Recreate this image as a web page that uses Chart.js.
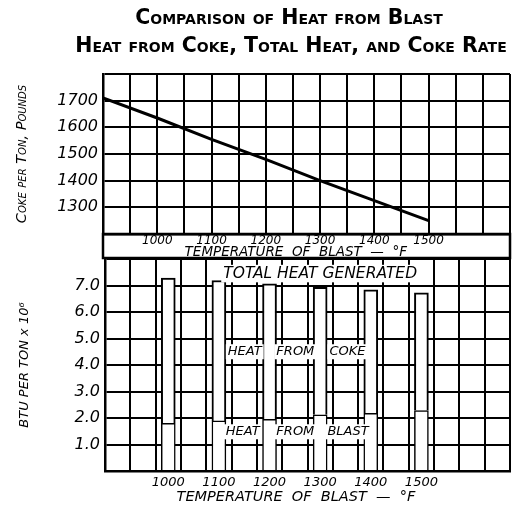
<!DOCTYPE html>
<html>
<head>
<meta charset="utf-8">
<script src="https://cdn.jsdelivr.net/npm/chart.js@4.4.0/dist/chart.umd.min.js"></script>
<style>
  body { margin: 0; background: #fff; }
  #wrap { position: relative; width: 520px; height: 505px; background: #fff; }
  #topChart { position: absolute; left: 0; top: 0; }
  #bottomChart { position: absolute; left: 0; top: 258px; }
</style>
</head>
<body>
<div id="wrap">
  <canvas id="topChart" width="520" height="260" style="width:520px;height:260px"></canvas>
  <canvas id="bottomChart" width="520" height="247" style="width:520px;height:247px"></canvas>
</div>
<script>
const titleLines = ["Comparison of Heat from Blast", "Heat from Coke, Total Heat, and Coke Rate"];

// coke rate line (upper chart)
const cokeTemps = [900, 1000, 1100, 1200, 1300, 1400, 1500];
const cokeRate = [1710, 1635, 1555, 1480, 1400, 1325, 1250];

// heat bars (lower chart), BTU per ton x 10^6
const barTemps = [1000, 1100, 1200, 1300, 1400, 1500];
const heatFromBlast = [1.80, 1.89, 1.95, 2.12, 2.18, 2.28];
const heatFromCoke = [5.48, 5.30, 5.11, 4.81, 4.66, 4.44];

const tempTicks = [1000, 1100, 1200, 1300, 1400, 1500];
const cokeTicks = [1300, 1400, 1500, 1600, 1700];
const btuTicks = [1, 2, 3, 4, 5, 6, 7];

// words written on the lower chart, placed in data units
const totalNote = { text: "TOTAL HEAT GENERATED", temp: 1300, btu: 7.45 };
const wordText = ["HEAT", "FROM", "COKE", "HEAT", "FROM", "BLAST"];
const wordTemp = [1151, 1251, 1354, 1147, 1251, 1355];
const wordBtu = [4.5, 4.5, 4.5, 1.48, 1.48, 1.48];

Chart.defaults.font.family = "'DejaVu Sans'";
Chart.defaults.color = "#000";

const INK = "#000";
const gridOpts = { color: INK, lineWidth: 2, drawTicks: false };
const borderOpts = { color: INK, width: 2.5 };

const headTitle = {
    id: "headTitle",
    afterDraw(chart) {
        const ctx = chart.ctx;
        ctx.save();
        ctx.font = "small-caps bold 20.5px 'DejaVu Sans'";
        ctx.fillStyle = INK;
        ctx.textAlign = "center";
        ctx.textBaseline = "middle";
        ctx.fillText(titleLines[0], 289, 19);
        ctx.fillText(titleLines[1], 291, 47);
        ctx.restore();
    },
};

// box round the upper chart's temperature scale
const stripBox = {
    id: "stripBox",
    afterDraw(chart) {
        const { ctx, chartArea } = chart;
        ctx.save();
        ctx.strokeStyle = INK;
        ctx.lineWidth = 2.5;
        ctx.strokeRect(chartArea.left, chartArea.bottom, chartArea.right - chartArea.left, chart.height - 2 - chartArea.bottom);
        ctx.restore();
    },
};

function note(ctx, text, x, y, size) {
    ctx.font = "italic " + size + "px 'DejaVu Sans'";
    const w = ctx.measureText(text).width;
    ctx.fillStyle = "#fff";
    ctx.fillRect(x - w / 2 - 2, y - size / 2 - 1, w + 4, size + 2);
    ctx.fillStyle = INK;
    ctx.fillText(text, x, y);
}

const notes = {
    id: "notes",
    afterDatasetsDraw(chart) {
        const { ctx, scales } = chart;
        ctx.save();
        ctx.textAlign = "center";
        ctx.textBaseline = "middle";
        note(ctx, totalNote.text, scales.x.getPixelForValue(totalNote.temp), scales.y.getPixelForValue(totalNote.btu), 15.5);
        wordText.forEach((t, i) => {
            note(ctx, t, scales.x.getPixelForValue(wordTemp[i]), scales.y.getPixelForValue(wordBtu[i]), 13);
        });
        ctx.restore();
    },
};

function tempAxis(tickSize, tickPad, titleSize, titlePad, height) {
    return {
        type: "linear",
        min: 900,
        max: 1650,
        grid: gridOpts,
        border: borderOpts,
        ticks: {
            stepSize: 50,
            autoSkip: false,
            maxRotation: 0,
            padding: tickPad,
            font: { size: tickSize, style: "italic", lineHeight: 1 },
            callback: (v) => (tempTicks.includes(v) ? String(v) : ""),
        },
        title: {
            display: true,
            // trailing spaces nudge the centred title a little to the left
            text: "TEMPERATURE  OF  BLAST  —  °F     ",
            font: { size: titleSize, style: "italic", lineHeight: 1 },
            padding: { top: 0, bottom: titlePad },
        },
        afterFit: (scale) => {
            scale.height = height;
            scale.paddingLeft = 0;
            scale.paddingRight = 0;
        },
    };
}

new Chart(document.getElementById("topChart"), {
    type: "line",
    data: {
        datasets: [
            {
                label: "Coke rate",
                data: cokeTemps.map((t, i) => ({ x: t, y: cokeRate[i] })),
                borderColor: INK,
                borderWidth: 3,
                pointRadius: 0,
                fill: false,
            },
        ],
    },
    options: {
        responsive: false,
        animation: false,
        layout: { padding: { top: 74, right: 10, left: 0, bottom: 0 } },
        plugins: { legend: { display: false }, tooltip: { enabled: false } },
        scales: {
            x: tempAxis(12, 1, 13.5, 1, 26),
            y: {
                min: 1200,
                max: 1800,
                grid: gridOpts,
                border: borderOpts,
                ticks: {
                    stepSize: 100,
                    padding: 5,
                    font: { size: 16, style: "italic" },
                    callback: (v) => (cokeTicks.includes(v) ? String(v) : ""),
                },
                title: {
                    display: true,
                    text: "Coke per Ton, Pounds",
                    // weight slot carries small-caps into the canvas font string
                    font: { size: 14.5, style: "italic", weight: "small-caps normal", lineHeight: 1 },
                    padding: { top: 15, bottom: 0 },
                },
                afterFit: (scale) => {
                    scale.width = 103;
                    scale.paddingTop = 0;
                    scale.paddingBottom = 0;
                },
            },
        },
    },
    plugins: [headTitle, stripBox],
});

new Chart(document.getElementById("bottomChart"), {
    type: "bar",
    data: {
        datasets: [
            {
                label: "Heat from blast",
                data: barTemps.map((t, i) => ({ x: t, y: heatFromBlast[i] })),
                backgroundColor: "#fff",
                borderColor: INK,
                borderWidth: 1.5,
                barThickness: 14,
            },
            {
                label: "Heat from coke",
                data: barTemps.map((t, i) => ({ x: t, y: heatFromCoke[i] })),
                backgroundColor: "#fff",
                borderColor: INK,
                borderWidth: 2,
                barThickness: 14,
            },
        ],
    },
    options: {
        responsive: false,
        animation: false,
        layout: { padding: { top: 1, right: 10, left: 0, bottom: 0 } },
        plugins: { legend: { display: false }, tooltip: { enabled: false } },
        scales: {
            x: Object.assign(tempAxis(13, 5, 14.5, 1, 34), { stacked: true }),
            y: {
                stacked: true,
                min: 0,
                max: 8,
                grid: gridOpts,
                border: borderOpts,
                ticks: {
                    stepSize: 1,
                    padding: 5,
                    font: { size: 16, style: "italic" },
                    callback: (v) => (btuTicks.includes(v) ? v.toFixed(1) : ""),
                },
                title: {
                    display: true,
                    text: "BTU PER TON x 10⁶",
                    font: { size: 13, style: "italic", lineHeight: 1 },
                    padding: { top: 18, bottom: 0 },
                },
                afterFit: (scale) => {
                    scale.width = 105;
                    scale.paddingTop = 0;
                    scale.paddingBottom = 0;
                },
            },
        },
    },
    plugins: [notes],
});
</script>
</body>
</html>
